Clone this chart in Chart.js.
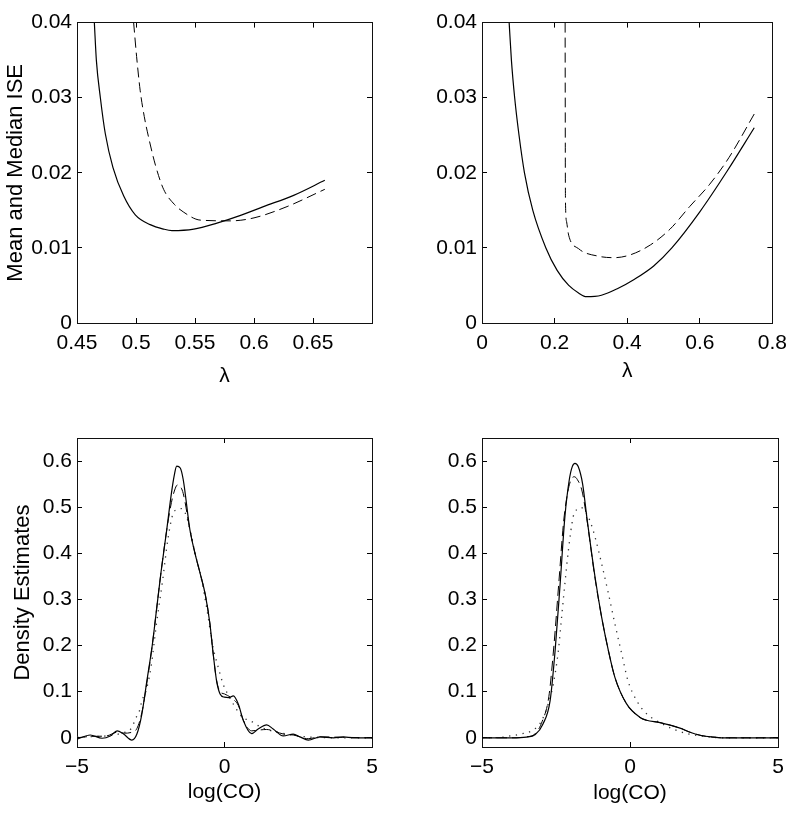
<!DOCTYPE html>
<html>
<head>
<meta charset="utf-8">
<script src="https://cdn.jsdelivr.net/npm/chart.js@4.4.1/dist/chart.umd.min.js"></script>
<style>
body { margin: 0; background: #fff; }
#wrap { position: relative; width: 800px; height: 818px; }
canvas { position: absolute; }
</style>
</head>
<body>
<div id="wrap">
<canvas id="c1" width="400" height="409" style="left:0;top:0"></canvas>
<canvas id="c2" width="400" height="409" style="left:400px;top:0"></canvas>
<canvas id="c3" width="400" height="409" style="left:0;top:409px"></canvas>
<canvas id="c4" width="400" height="409" style="left:400px;top:409px"></canvas>
</div>
<script>
// top left: ISE against lambda
const tlSolidX = [0.4647, 0.4664, 0.4698, 0.474, 0.4805, 0.4896, 0.4994, 0.512, 0.5234, 0.5305, 0.549, 0.5686, 0.588, 0.608, 0.6336, 0.66];
const tlSolidY = [0.040, 0.035, 0.030, 0.0252, 0.0207, 0.0169, 0.0144, 0.0131, 0.0125, 0.0123, 0.0125, 0.0133, 0.0143, 0.0155, 0.017, 0.019];
const tlDashX = [0.498, 0.5005, 0.5035, 0.507, 0.511, 0.5165, 0.5234, 0.5325, 0.54, 0.5545, 0.58, 0.6, 0.628, 0.66];
const tlDashY = [0.040, 0.0355, 0.031, 0.0275, 0.0245, 0.021, 0.0178, 0.0158, 0.0148, 0.0137, 0.0136, 0.014, 0.0155, 0.0178];
const tlXTicks = [0.45, 0.5, 0.55, 0.6, 0.65];

// top right
const trSolidX = [0.0748, 0.081, 0.090, 0.102, 0.117, 0.140, 0.176, 0.207, 0.239, 0.266, 0.288, 0.329, 0.374, 0.419, 0.473, 0.523, 0.6, 0.675, 0.75];
const trSolidY = [0.040, 0.035, 0.030, 0.025, 0.020, 0.015, 0.010, 0.007, 0.005, 0.004, 0.0035, 0.0037, 0.0046, 0.0058, 0.0076, 0.0100, 0.0148, 0.0202, 0.026];
const trDashX = [0.2290, 0.2293, 0.2296, 0.2300, 0.2330, 0.2387, 0.266, 0.32, 0.365, 0.41, 0.464, 0.518, 0.572, 0.626, 0.68, 0.752];
const trDashY = [0.040, 0.030, 0.020, 0.016, 0.0135, 0.0117, 0.0099, 0.0089, 0.0087, 0.0091, 0.0104, 0.0125, 0.0155, 0.0184, 0.022, 0.028];
const trXTicks = [0, 0.2, 0.4, 0.6, 0.8];

const iseTicks = [0, 0.01, 0.02, 0.03, 0.04];

// bottom left: density estimates
const blSolidX = [-5, -4.55, -4.15, -3.87, -3.64, -3.42, -3.14, -2.97, -2.8, -2.63, -2.45, -2.3, -2.15, -1.96, -1.8, -1.7, -1.62, -1.5, -1.4, -1.17, -1.0, -0.8, -0.65, -0.5, -0.38, -0.27, -0.15, 0.0, 0.15, 0.3, 0.47, 0.64, 0.92, 1.14, 1.43, 1.65, 1.99, 2.33, 2.56, 2.84, 3.24, 3.69, 4.03, 4.37, 5];
const blSolidY = [-0.003, 0.006, -0.001, 0.004, 0.015, 0.008, -0.005, 0.008, 0.052, 0.124, 0.2, 0.28, 0.36, 0.45, 0.53, 0.57, 0.589, 0.585, 0.56, 0.45, 0.40, 0.35, 0.31, 0.25, 0.18, 0.124, 0.095, 0.088, 0.087, 0.091, 0.073, 0.037, 0.009, 0.019, 0.028, 0.019, 0.004, 0.008, 0.002, -0.005, 0.002, 0.0, 0.002, 0.0, 0.0];
const blDashX = [-5, -4.5, -4.0, -3.64, -3.4, -3.14, -2.97, -2.8, -2.63, -2.45, -2.3, -2.15, -1.96, -1.8, -1.7, -1.6, -1.5, -1.4, -1.17, -1.0, -0.8, -0.65, -0.5, -0.38, -0.27, -0.15, 0.0, 0.3, 0.47, 0.64, 0.92, 1.2, 1.43, 1.65, 2.0, 2.33, 2.84, 3.24, 4.0, 5];
const blDashY = [0.0, 0.003, 0.004, 0.012, 0.010, 0.012, 0.020, 0.055, 0.12, 0.2, 0.28, 0.36, 0.45, 0.51, 0.535, 0.548, 0.545, 0.53, 0.45, 0.40, 0.35, 0.31, 0.25, 0.18, 0.125, 0.1, 0.095, 0.083, 0.07, 0.038, 0.015, 0.017, 0.018, 0.015, 0.008, 0.006, -0.002, 0.002, 0.001, 0.0];
const blDotX = [-5, -4, -3.5, -3.14, -3.02, -2.88, -2.8, -2.66, -2.5, -2.3, -2.1, -1.92, -1.75, -1.6, -1.47, -1.35, -1.2, -1.0, -0.8, -0.6, -0.4, -0.2, -0.05, 0.15, 0.3, 0.6, 0.87, 1.26, 1.8, 2.3, 3.0, 4, 5];
const blDotY = [0.002, 0.004, 0.01, 0.022, 0.041, 0.059, 0.08, 0.102, 0.15, 0.25, 0.34, 0.43, 0.485, 0.495, 0.497, 0.49, 0.46, 0.40, 0.35, 0.28, 0.20, 0.15, 0.117, 0.09, 0.073, 0.045, 0.037, 0.022, 0.012, 0.006, 0.001, 0.0, 0.0];

// bottom right
const brSolidX = [-5, -4, -3.5, -3.2, -2.94, -2.7, -2.53, -2.36, -2.2, -2.05, -1.95, -1.86, -1.75, -1.6, -1.46, -1.18, -0.96, -0.73, -0.51, -0.12, 0.34, 0.56, 1.01, 1.69, 2.03, 2.4, 2.8, 3.1, 5];
const brSolidY = [0, 0, 0.0015, 0.007, 0.030, 0.080, 0.189, 0.334, 0.479, 0.56, 0.588, 0.595, 0.588, 0.55, 0.479, 0.348, 0.262, 0.189, 0.131, 0.074, 0.044, 0.038, 0.033, 0.021, 0.012, 0.005, 0.0015, 0, 0];
const brDashX = [-5, -4, -3.5, -3.2, -2.97, -2.74, -2.57, -2.4, -2.24, -2.08, -1.97, -1.88, -1.78, -1.62, -1.46, -1.18, -0.96, -0.73, -0.51, -0.12, 0.34, 0.56, 1.01, 1.69, 2.03, 2.4, 2.8, 3.1, 5];
const brDashY = [0, 0, 0.002, 0.009, 0.035, 0.09, 0.2, 0.34, 0.47, 0.54, 0.562, 0.566, 0.56, 0.535, 0.475, 0.345, 0.262, 0.189, 0.131, 0.074, 0.044, 0.038, 0.033, 0.021, 0.012, 0.005, 0.0015, 0, 0];
const brDotX = [-5, -4.35, -4.05, -3.7, -3.3, -3.0, -2.76, -2.59, -2.42, -2.31, -2.2, -2.08, -1.92, -1.8, -1.65, -1.5, -1.35, -1.18, -0.96, -0.73, -0.51, -0.28, -0.07, 0.23, 0.56, 1.01, 1.45, 1.92, 2.4, 2.8, 3.2, 5];
const brDotY = [0, 0.001, 0.004, 0.008, 0.016, 0.035, 0.074, 0.117, 0.189, 0.262, 0.334, 0.407, 0.479, 0.495, 0.499, 0.49, 0.47, 0.435, 0.378, 0.313, 0.247, 0.182, 0.124, 0.080, 0.052, 0.033, 0.019, 0.009, 0.004, 0.001, 0, 0];

const logTicks = [-5, 0, 5];
const densTicks = [0, 0.1, 0.2, 0.3, 0.4, 0.5, 0.6];

const FONT = '"Liberation Sans", Arial, Helvetica, sans-serif';
const CW = 400, CH = 409;

function fmt(v) {
    return String(v).replace('-', '\u2212');
}

function series(xs, ys, kind) {
    let ds = {
        data: xs.map((x, i) => ({x: x, y: ys[i]})),
        borderColor: '#000',
        borderWidth: 1.2,
        pointRadius: 0,
        fill: false,
        cubicInterpolationMode: 'monotone'
    };
    if (kind == 'dash') {
        ds.borderDash = [10, 5];
        ds.borderWidth = 1;
    }
    if (kind == 'dot') {
        ds.borderDash = [1.3, 5.5];
        ds.borderWidth = 1.3;
        ds.borderColor = '#333';
    }
    return ds;
}

function setTicks(list) {
    return function(scale) {
        scale.ticks = list.map(v => ({value: v}));
    };
}

function makePanel(id, box, xr, yr, xTicks, yTicks, xTitle, yTitle, datasets) {
    const ctx = document.getElementById(id).getContext('2d');
    const grid = {drawOnChartArea: false, drawTicks: true, tickLength: -5, color: '#000', lineWidth: 1};
    const border = {display: true, color: '#111', width: 1};
    return new Chart(ctx, {
        type: 'line',
        data: {datasets: datasets},
        options: {
            responsive: false,
            animation: false,
            events: [],
            layout: {padding: 0},
            plugins: {legend: {display: false}, tooltip: {enabled: false}},
            scales: {
                x: {
                    type: 'linear', position: 'bottom', min: xr[0], max: xr[1],
                    afterBuildTicks: setTicks(xTicks),
                    afterFit: s => { s.height = CH - box.bottom; },
                    grid: grid, border: border,
                    ticks: {font: {family: FONT, size: 21}, color: '#000', padding: 13, maxRotation: 0, autoSkip: false, callback: fmt},
                    title: {display: true, text: xTitle, color: '#000', font: {family: FONT, size: 21}, padding: {top: 0, bottom: box.xtPad}}
                },
                x2: {
                    type: 'linear', position: 'top', min: xr[0], max: xr[1],
                    afterBuildTicks: setTicks(xTicks),
                    afterFit: s => { s.height = box.top; },
                    grid: grid, border: border,
                    ticks: {display: false}
                },
                y: {
                    type: 'linear', position: 'left', min: yr[0], max: yr[1],
                    afterBuildTicks: setTicks(yTicks),
                    afterFit: s => { s.width = box.left; },
                    grid: grid, border: border,
                    ticks: {font: {family: FONT, size: 21}, color: '#000', padding: 10, callback: fmt},
                    title: {display: yTitle != '', text: yTitle, color: '#000', font: {family: FONT, size: 22}, padding: {top: box.ytPad, bottom: 0}}
                },
                y2: {
                    type: 'linear', position: 'right', min: yr[0], max: yr[1],
                    afterBuildTicks: setTicks(yTicks),
                    afterFit: s => { s.width = CW - box.right; },
                    grid: grid, border: border,
                    ticks: {display: false}
                }
            }
        }
    });
}

makePanel('c1', {left: 77, right: 372, top: 15, bottom: 323, xtPad: 20, ytPad: 3},
    [0.45, 0.70], [0, 0.04], tlXTicks, iseTicks, '\u03bb', 'Mean and Median ISE',
    [series(tlSolidX, tlSolidY, 'solid'), series(tlDashX, tlDashY, 'dash')]);

makePanel('c2', {left: 82, right: 378, top: 15, bottom: 323, xtPad: 25, ytPad: 2},
    [0, 0.8], [0, 0.04], trXTicks, iseTicks, '\u03bb', '',
    [series(trSolidX, trSolidY, 'solid'), series(trDashX, trDashY, 'dash')]);

makePanel('c3', {left: 77, right: 372, top: 29, bottom: 338, xtPad: 13, ytPad: 10},
    [-5, 5], [-0.02, 0.65], logTicks, densTicks, 'log(CO)', 'Density Estimates',
    [series(blSolidX, blSolidY, 'solid'), series(blDashX, blDashY, 'dash'), series(blDotX, blDotY, 'dot')]);

makePanel('c4', {left: 82, right: 378, top: 29, bottom: 338, xtPad: 12, ytPad: 2},
    [-5, 5], [-0.02, 0.65], logTicks, densTicks, 'log(CO)', '',
    [series(brSolidX, brSolidY, 'solid'), series(brDashX, brDashY, 'dash'), series(brDotX, brDotY, 'dot')]);
</script>
</body>
</html>
